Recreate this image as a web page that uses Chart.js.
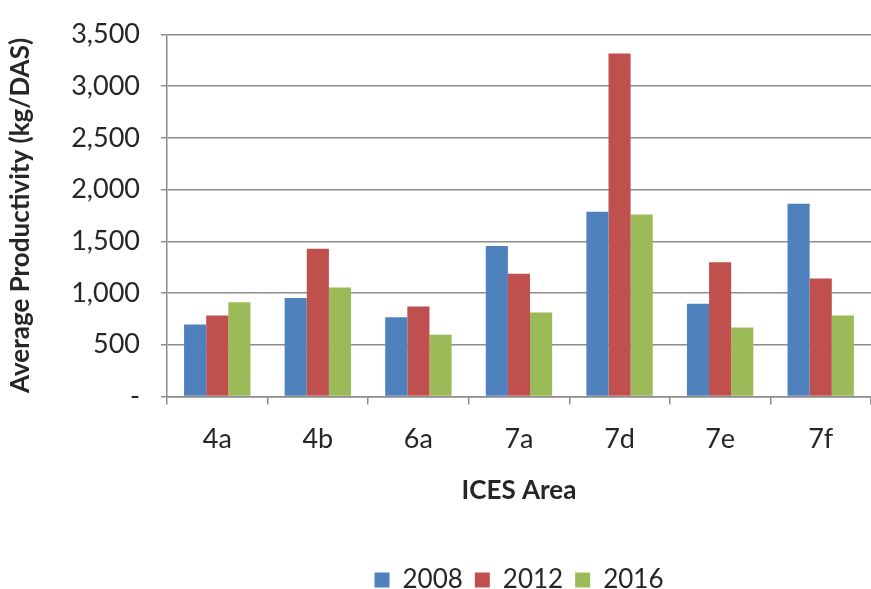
<!DOCTYPE html>
<html>
<head>
<meta charset="utf-8">
<script src="https://cdn.jsdelivr.net/npm/chart.js@4"></script>
<style>
  html, body { margin: 0; padding: 0; background: #fff; }
  #wrap { width: 871px; height: 589px; }
</style>
</head>
<body>
<div id="wrap"><canvas id="myChart"></canvas></div>
<script>
// Data

const areas = ["4a", "4b", "6a", "7a", "7d", "7e", "7f"];
const years = ["2008", "2012", "2016"];
const values2008 = [695, 952, 766, 1455, 1785, 897, 1862];
const values2012 = [782, 1429, 869, 1186, 3317, 1298, 1141];
const values2016 = [910, 1054, 596, 811, 1760, 667, 782];
const yTicks = [0, 500, 1000, 1500, 2000, 2500, 3000, 3500];

const colors = ["#4F81BD", "#C0504D", "#9BBB59"];
const fontFamily = "Lato, 'Open Sans', sans-serif";
const textColor = "#262626";

const data = {
    labels: areas,
    datasets: [values2008, values2012, values2016].map((vals, i) => ({
        label: years[i],
        data: vals,
        backgroundColor: colors[i],
        borderWidth: 0,
        categoryPercentage: 0.66,
        barPercentage: 1.0
    }))
};

// Config

const config = {
    type: "bar",
    data,
    options: {
        responsive: true,
        maintainAspectRatio: false,
        animation: false,
        layout: {
            padding: { top: 8, right: 0, bottom: -14, left: 5 }
        },
        plugins: {
            tooltip: { enabled: false },
            legend: {
                position: "bottom",
                fullSize: false,
                labels: {
                    color: textColor,
                    font: { family: fontFamily, size: 26 },
                    boxWidth: 15,
                    boxHeight: 15,
                    padding: 12
                }
            }
        },
        scales: {
            x: {
                grid: {
                    display: true,
                    drawOnChartArea: false,
                    color: "#8c8c8c",
                    lineWidth: 1.5,
                    tickLength: 8
                },
                border: { color: "#8c8c8c", width: 1.5 },
                ticks: {
                    color: textColor,
                    font: { family: fontFamily, size: 27 },
                    padding: 19
                },
                title: {
                    display: true,
                    text: "ICES Area",
                    color: textColor,
                    font: { family: fontFamily, size: 26, weight: "bold" },
                    padding: { top: 0, bottom: 49 }
                }
            },
            y: {
                min: 0,
                max: 3500,
                afterBuildTicks: (axis) => {
                    axis.ticks = yTicks.map((v) => ({ value: v }));
                },
                grid: {
                    color: "#8c8c8c",
                    lineWidth: 1.5,
                    tickLength: 6
                },
                border: { color: "#8c8c8c", width: 1.5 },
                ticks: {
                    color: textColor,
                    font: { family: fontFamily, size: 27, lineHeight: 1.0 },
                    padding: 21,
                    callback: (value) => value === 0 ? "-" : value.toLocaleString("en-US")
                },
                title: {
                    display: true,
                    text: "Average Productivity (kg/DAS)",
                    color: textColor,
                    font: { family: fontFamily, size: 26, weight: "bold" },
                    padding: { top: 0, bottom: 14 }
                }
            }
        }
    }
};

// Render

const myChart = new Chart(document.getElementById("myChart"), config);
</script>
</body>
</html>
